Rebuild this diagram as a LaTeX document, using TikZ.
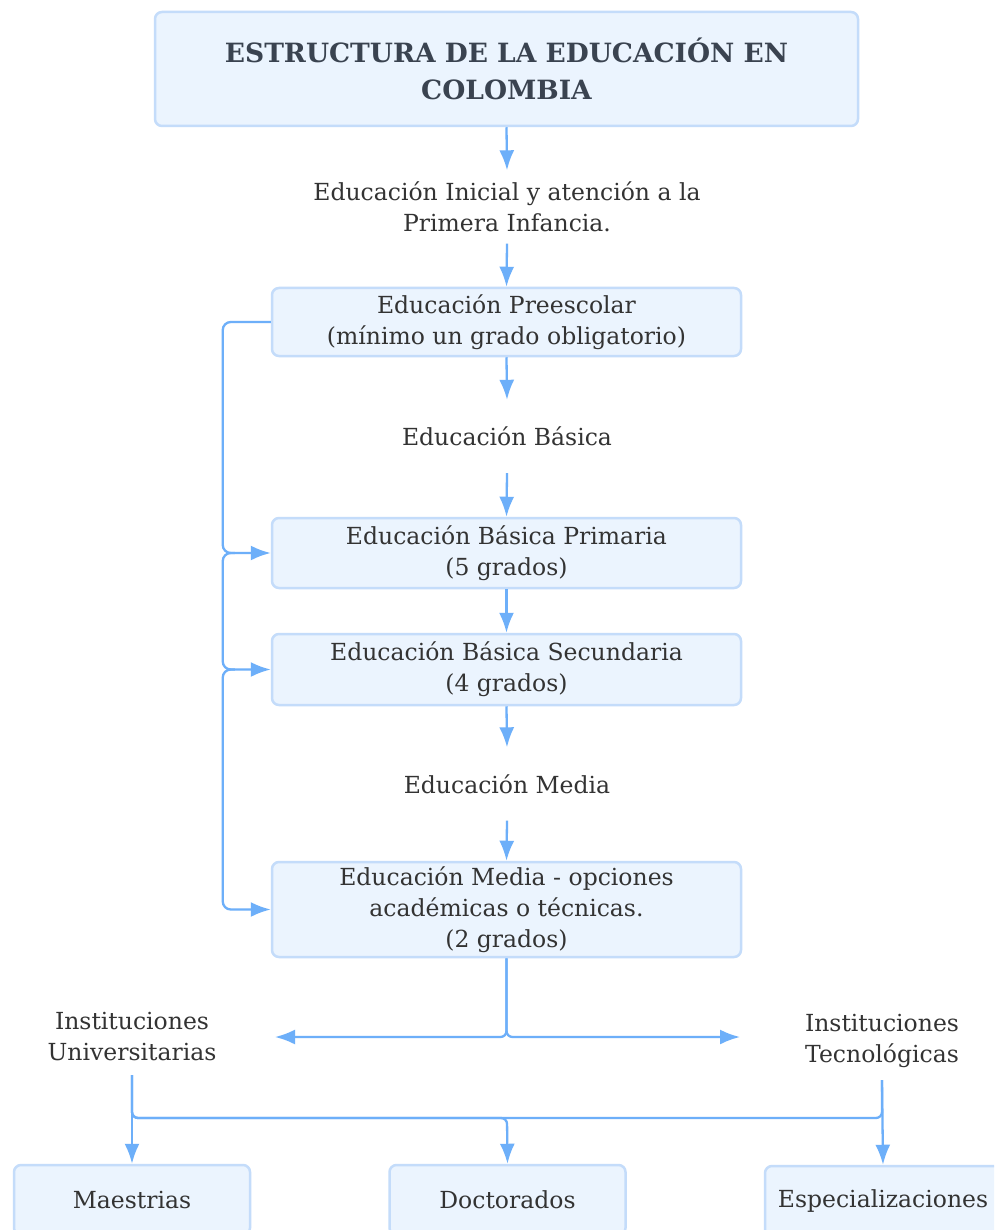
\documentclass[tikz,border=0pt]{standalone}
\usepackage{fontspec}
\setmainfont{DejaVu Serif}
\usetikzlibrary{arrows.meta}
\definecolor{boxfill}{HTML}{EBF4FE}
\definecolor{boxline}{HTML}{C4DCFA}
\definecolor{arr}{HTML}{6DAFF9}
\definecolor{txt}{HTML}{333333}
\definecolor{ttl}{HTML}{3A4350}
\begin{document}
\begin{tikzpicture}[x=1pt,y=-1pt,
  box/.style={draw=boxline, fill=boxfill, line width=2.5pt, rounded corners=7pt,
    text=txt, align=center, inner sep=0pt, minimum width=469pt},
  lbl/.style={text=txt, align=center, inner sep=0pt, minimum height=73pt},
  arrow/.style={draw=arr, line width=2.3pt, -{Latex[length=20pt,width=15pt]}},
  conn/.style={draw=arr, line width=2.3pt},
  font=\fontsize{23.5}{31}\selectfont]
\clip (0,0) rectangle (994,1230);
\fill[white] (0,0) rectangle (994,1230);

\node[box, minimum width=703pt, minimum height=114pt, text=ttl,
  font=\fontsize{26.5}{37}\selectfont\bfseries] (title) at (506.5,69)
  {ESTRUCTURA DE LA EDUCACIÓN EN\\COLOMBIA};
\node[lbl] (ini) at (507,207) {Educación Inicial y atención a la\\Primera Infancia.};
\node[box, minimum height=68pt] (pre) at (506.5,322) {Educación Preescolar\\(mínimo un grado obligatorio)};
\node[lbl] (bas) at (507,436.5) {Educación Básica};
\node[box, minimum height=70pt] (prim) at (506.5,553) {Educación Básica Primaria\\(5 grados)};
\node[box, minimum height=71pt] (sec) at (506.5,669.5) {Educación Básica Secundaria\\(4 grados)};
\node[lbl] (media) at (507,784) {Educación Media};
\node[box, minimum height=95pt] (med) at (506.5,909.5) {Educación Media - opciones\\académicas o técnicas.\\(2 grados)};

\node[lbl, minimum height=76pt] (uni) at (132,1037) {Instituciones\\Universitarias};
\node[lbl, minimum height=78pt] (tec) at (882,1041) {Instituciones\\Tecnológicas};

\node[box, minimum width=236pt, minimum height=70pt] (mae) at (132,1200) {Maestrias};
\node[box, minimum width=236pt, minimum height=70pt] (doc) at (507.5,1200) {Doctorados};
\node[box, minimum width=236pt, minimum height=70pt] (esp) at (883,1201) {Especializaciones};

\coordinate (ul) at (275,1037);
\coordinate (ur) at (740,1037);
\coordinate (hb) at (507,1118);

\draw[arrow] (title.south) -- (ini.north);
\draw[arrow] (ini.south) -- (pre.north);
\draw[arrow] (pre.south) -- (bas.north);
\draw[arrow] (bas.south) -- (prim.north);
\draw[arrow] (prim.south) -- (sec.north);
\draw[arrow] (sec.south) -- (media.north);
\draw[arrow] (media.south) -- (med.north);

\draw[arrow, rounded corners=8pt] (pre.west) -| ([xshift=-48pt]prim.west) -- (prim.west);
\draw[arrow, rounded corners=8pt] ([xshift=-36pt]prim.west) -| ([xshift=-48pt]sec.west) -- (sec.west);
\draw[arrow, rounded corners=8pt] ([xshift=-36pt]sec.west) -| ([xshift=-48pt]med.west) -- (med.west);

\draw[arrow, rounded corners=6pt] (med.south) |- (ul);
\draw[arrow, rounded corners=6pt] (med.south) |- (ur);

\draw[arrow] (uni.south) -- (mae.north);
\draw[arrow, rounded corners=6pt] (uni.south) |- (hb) -- (doc.north);
\draw[conn, rounded corners=6pt] (uni.south) |- (tec.south |- hb) -- (tec.south);
\draw[arrow] (tec.south) -- (esp.north);
\end{tikzpicture}
\end{document}
